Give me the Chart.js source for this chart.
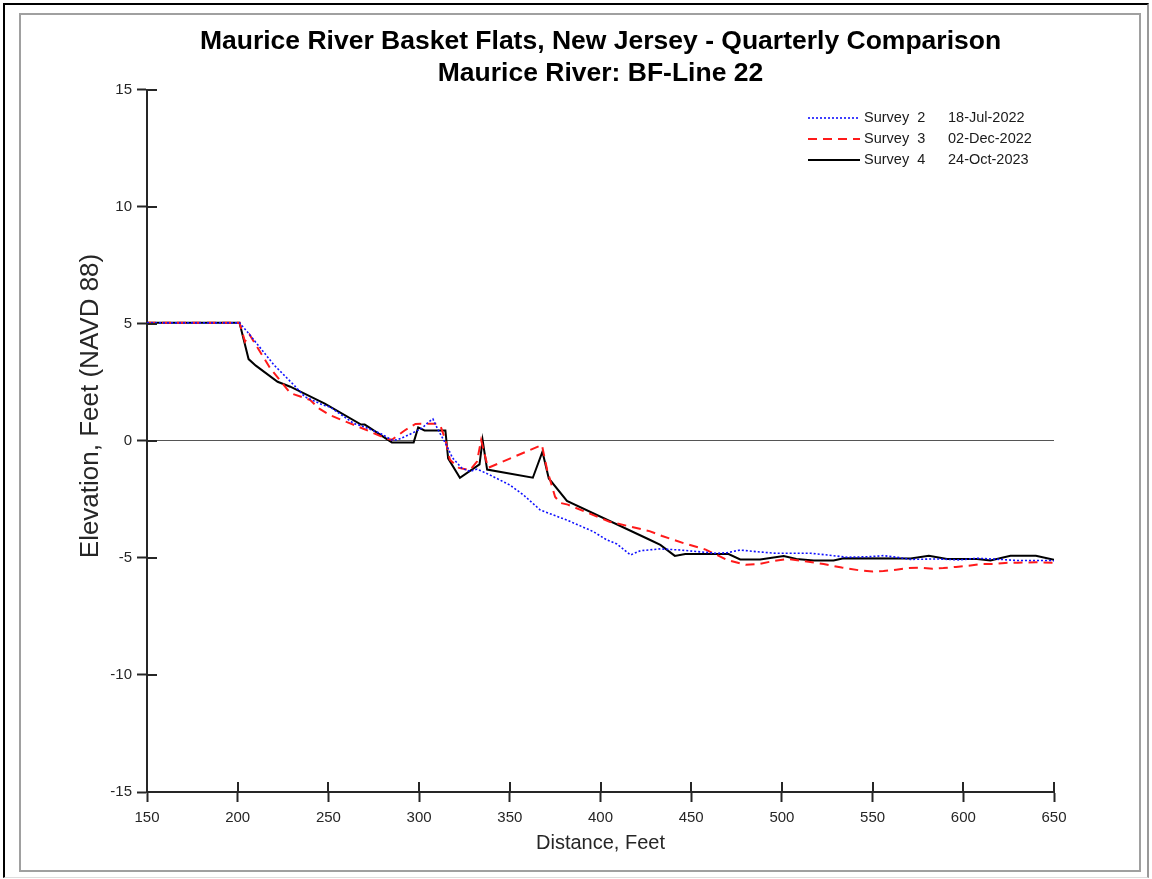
<!DOCTYPE html>
<html>
<head>
<meta charset="utf-8">
<title>Maurice River Basket Flats - BF-Line 22</title>
<script src="https://cdn.jsdelivr.net/npm/chart.js@4.4.1/dist/chart.umd.min.js"></script>
<style>
  html, body { margin: 0; padding: 0; background: #fff; }
  #wrap { position: relative; width: 1152px; height: 879px; overflow: hidden; background: #fff; }
  #c { position: absolute; left: 0; top: 0; }
  .frame-outer {
    position: absolute; left: 3px; top: 3px; width: 1146px; height: 875px; box-sizing: border-box;
    border-left: 2px solid #000; border-top: 2px solid #000;
    border-right: 2px solid #999; border-bottom: 1px solid #ddd; pointer-events: none;
  }
  .frame-inner {
    position: absolute; left: 19px; top: 13px; width: 1122px; height: 859px; box-sizing: border-box;
    border: 2px solid #a0a0a0; pointer-events: none;
  }
</style>
</head>
<body>
<div id="wrap">
  <canvas id="c" width="1152" height="879"></canvas>
  <div class="frame-outer"></div>
  <div class="frame-inner"></div>
</div>
<script>
// Cross-section profiles: distance along the line (feet) and elevation (feet, NAVD 88)
const survey2Dist = [150,201,206,220,231,237,247,251,264,270,278.5,285,288,294,301.7,305,307.6,310.5,315,318.5,323.7,328,332,339,350,357.6,366.8,381.5,396,403.5,409,416.5,422,433,444,464,470,477,486,497,516,525,536,549,556,563.5,571,585.5,598,607.6,620.5,630,648,650];
const survey2Elev = [5.05,5.05,4.6,3.25,2.39,1.89,1.54,1.45,0.75,0.6,0.33,0.04,0.05,0.25,0.55,0.8,0.94,0.47,-0.17,-0.73,-1.17,-1.3,-1.2,-1.45,-1.88,-2.31,-2.95,-3.38,-3.87,-4.23,-4.4,-4.87,-4.69,-4.61,-4.66,-4.8,-4.77,-4.66,-4.73,-4.8,-4.8,-4.87,-4.97,-4.94,-4.9,-4.97,-5.06,-5.04,-5.08,-5.01,-5.06,-5.11,-5.11,-5.12];

const survey3Dist = [150,201,204,206.5,218,229,240,245,251,263,270,282,285,292,298,310,312,314.5,317,322,328,331.9,334.2,338,339.5,367.7,370.6,375,378,382,405,427,434,446,458,470,480,487,496,503,512,523,533,543,550,556,563,570,576,583,589,596,603,610,617,623,630,640,650];
const survey3Elev = [5.05,5.05,4.25,4.55,3.1,2.05,1.75,1.38,1.1,0.72,0.5,0.1,0.05,0.45,0.73,0.74,0.6,0.05,-0.8,-1.15,-1.25,-0.88,0.04,-1.15,-1.1,-0.17,-1.24,-2.39,-2.65,-2.72,-3.45,-3.85,-4.06,-4.37,-4.64,-5.09,-5.29,-5.26,-5.12,-5.04,-5.13,-5.26,-5.41,-5.53,-5.58,-5.56,-5.5,-5.43,-5.41,-5.46,-5.43,-5.38,-5.33,-5.26,-5.26,-5.21,-5.2,-5.18,-5.2];

const survey4Dist = [150,201,206,210,222,229,248,268,270,272,285,297,299.5,303,314.5,316,322.5,333.3,335,337.5,362.7,368,371.5,381.5,427.4,433,441,446.7,470.6,477,488,501,508,517.5,528.5,534,571,581,591,607.6,615,626,640,650];
const survey4Elev = [5.05,5.05,3.5,3.22,2.53,2.32,1.6,0.7,0.7,0.6,-0.06,-0.06,0.58,0.45,0.45,-0.74,-1.57,-1.0,0.04,-1.22,-1.57,-0.46,-1.6,-2.56,-4.23,-4.44,-4.91,-4.83,-4.83,-5.06,-5.06,-4.92,-5.04,-5.11,-5.11,-5.01,-5.02,-4.9,-5.04,-5.04,-5.11,-4.9,-4.9,-5.08];

const surveyNames = ['Survey  2', 'Survey  3', 'Survey  4'];
const surveyDates = ['18-Jul-2022', '02-Dec-2022', '24-Oct-2023'];

const titleLines = ['Maurice River Basket Flats, New Jersey - Quarterly Comparison', 'Maurice River: BF-Line 22'];
const xAxisTitle = 'Distance, Feet';
const yAxisTitle = 'Elevation, Feet (NAVD 88)';

const FONT = "'Liberation Sans', Arial, Helvetica, sans-serif";
const AXIS_COLOR = '#262626';

function toPoints(xs, ys) {
  return xs.map((x, i) => ({ x: x, y: ys[i] }));
}

// Tick marks that cross the axis line (inner half drawn here, outer half by the scale)
const crossTicks = {
  id: 'crossTicks',
  afterDraw(chart) {
    const { ctx, chartArea, scales } = chart;
    ctx.save();
    ctx.strokeStyle = AXIS_COLOR;
    ctx.lineWidth = 2;
    ctx.beginPath();
    scales.x.ticks.forEach(t => {
      const px = Math.round(scales.x.getPixelForValue(t.value));
      ctx.moveTo(px, chartArea.bottom);
      ctx.lineTo(px, chartArea.bottom - 10);
    });
    scales.y.ticks.forEach(t => {
      const py = Math.round(scales.y.getPixelForValue(t.value));
      ctx.moveTo(chartArea.left, py);
      ctx.lineTo(chartArea.left + 10, py);
    });
    ctx.stroke();
    ctx.restore();
  }
};

// Rotated elevation label left of the vertical axis, set a little above the axis midpoint
const elevationLabel = {
  id: 'elevationLabel',
  afterDraw(chart) {
    const { ctx, chartArea } = chart;
    const cy = (chartArea.top + chartArea.bottom) / 2 - 35;
    ctx.save();
    ctx.translate(chartArea.left - 56, cy);
    ctx.rotate(-Math.PI / 2);
    ctx.fillStyle = AXIS_COLOR;
    ctx.font = '26px ' + FONT;
    ctx.textAlign = 'center';
    ctx.textBaseline = 'middle';
    ctx.fillText(yAxisTitle, 0, 0);
    ctx.restore();
  }
};

// Legend box in the upper right of the plot: line sample, survey name, survey date
const insetLegend = {
  id: 'insetLegend',
  afterDraw(chart) {
    const { ctx, chartArea } = chart;
    const x0 = chartArea.right - 246;
    ctx.save();
    chart.data.datasets.forEach((ds, i) => {
      const y = chartArea.top + 28 + i * 21;
      ctx.beginPath();
      ctx.strokeStyle = ds.borderColor;
      ctx.lineWidth = ds.borderWidth;
      ctx.setLineDash(ds.borderDash || []);
      ctx.moveTo(x0, y);
      ctx.lineTo(x0 + 52, y);
      ctx.stroke();
      ctx.setLineDash([]);
      ctx.fillStyle = '#1a1a1a';
      ctx.font = '14.5px ' + FONT;
      ctx.textBaseline = 'middle';
      ctx.textAlign = 'left';
      ctx.fillText(surveyNames[i], x0 + 56, y);
      ctx.fillText(surveyDates[i], x0 + 140, y);
    });
    ctx.restore();
  }
};

new Chart(document.getElementById('c'), {
  type: 'line',
  data: {
    datasets: [
      {
        label: surveyNames[0] + ' ' + surveyDates[0],
        data: toPoints(survey2Dist, survey2Elev),
        borderColor: '#1010ff',
        borderWidth: 1.6,
        borderDash: [2, 2],
        pointRadius: 0,
        tension: 0,
        fill: false
      },
      {
        label: surveyNames[1] + ' ' + surveyDates[1],
        data: toPoints(survey3Dist, survey3Elev),
        borderColor: '#ff1a1a',
        borderWidth: 2,
        borderDash: [9, 6],
        pointRadius: 0,
        tension: 0,
        fill: false
      },
      {
        label: surveyNames[2] + ' ' + surveyDates[2],
        data: toPoints(survey4Dist, survey4Elev),
        borderColor: '#000000',
        borderWidth: 2,
        pointRadius: 0,
        tension: 0,
        fill: false
      }
    ]
  },
  options: {
    responsive: false,
    animation: false,
    devicePixelRatio: 1,
    layout: { padding: { left: 0, right: 98, top: 0, bottom: 0 } },
    plugins: {
      legend: { display: false },
      tooltip: { enabled: false },
      title: {
        display: true,
        fullSize: false,
        text: titleLines,
        color: '#000',
        font: { family: FONT, size: 26.5, weight: 'bold', lineHeight: 1.2075 },
        padding: { top: 26, bottom: 0 }
      }
    },
    scales: {
      x: {
        type: 'linear',
        position: 'bottom',
        min: 150,
        max: 650,
        afterFit(s) { s.height = 87; },
        border: { display: true, color: AXIS_COLOR, width: 2 },
        grid: { drawOnChartArea: false, drawTicks: true, tickLength: 10, tickColor: AXIS_COLOR, tickWidth: 2 },
        ticks: {
          stepSize: 50, padding: 7, color: AXIS_COLOR, autoSkip: false, maxRotation: 0,
          font: { family: FONT, size: 15 }
        },
        title: {
          display: true, text: xAxisTitle, color: AXIS_COLOR,
          font: { family: FONT, size: 20, lineHeight: 1.2 },
          padding: { top: 0, bottom: 24 }
        }
      },
      y: {
        type: 'linear',
        position: 'left',
        min: -15,
        max: 15,
        afterFit(s) { s.width = 147; },
        border: { display: true, color: AXIS_COLOR, width: 2 },
        grid: {
          drawOnChartArea: true,
          drawTicks: true,
          tickLength: 10,
          tickColor: AXIS_COLOR,
          tickWidth: 2,
          lineWidth: 1,
          color: (c) => (c.tick && c.tick.value === 0 ? '#555555' : 'rgba(0,0,0,0)')
        },
        ticks: {
          stepSize: 5, padding: 5, color: AXIS_COLOR,
          font: { family: FONT, size: 15 }
        },
        title: { display: false }
      }
    }
  },
  plugins: [crossTicks, elevationLabel, insetLegend]
});
</script>
</body>
</html>
